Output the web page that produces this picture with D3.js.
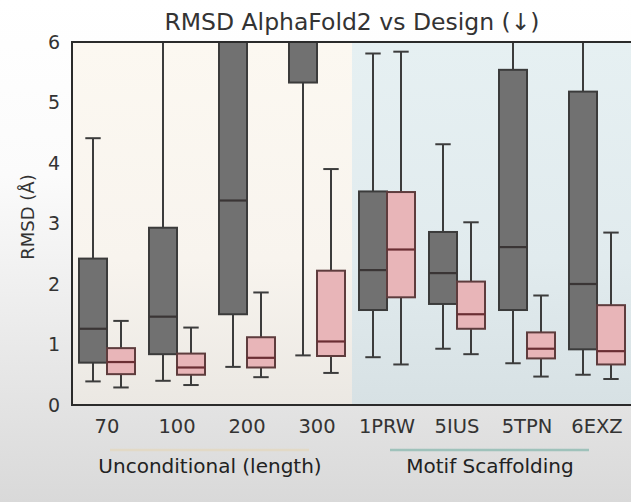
<!DOCTYPE html>
<html>
<head>
<meta charset="utf-8">
<script src="https://cdn.jsdelivr.net/npm/d3@7"></script>
<style>
  html, body { margin: 0; padding: 0; background: #fff; }
  svg { display: block; font-family: "DejaVu Sans", sans-serif; }
</style>
</head>
<body>
<svg id="chart" width="631" height="502"></svg>
<script>
// ---- data ----
const categories = ["70", "100", "200", "300", "1PRW", "5IUS", "5TPN", "6EXZ"];
const groups = ["Unconditional (length)", "Motif Scaffolding"];
const groupOf = [0, 0, 0, 0, 1, 1, 1, 1];
const yTicks = [0, 1, 2, 3, 4, 5, 6];
// first series (gray): [whiskerLow, q1, median, q3, whiskerHigh]
const grayLow    = [0.39, 0.40, 0.63, 0.82, 0.79, 0.93, 0.69, 0.50];
const grayQ1     = [0.70, 0.84, 1.50, 5.33, 1.57, 1.67, 1.57, 0.92];
const grayMedian = [1.26, 1.46, 3.38, 7.50, 2.23, 2.18, 2.61, 2.00];
const grayQ3     = [2.42, 2.93, 6.80, 9.50, 3.53, 2.86, 5.54, 5.18];
const grayHigh   = [4.41, 6.80, 9.50, 12.0, 5.81, 4.31, 7.50, 7.20];
// second series (pink)
const pinkLow    = [0.29, 0.33, 0.46, 0.53, 0.67, 0.84, 0.47, 0.43];
const pinkQ1     = [0.51, 0.50, 0.62, 0.81, 1.78, 1.26, 0.77, 0.67];
const pinkMedian = [0.71, 0.62, 0.78, 1.05, 2.57, 1.50, 0.93, 0.89];
const pinkQ3     = [0.94, 0.85, 1.12, 2.22, 3.52, 2.04, 1.20, 1.65];
const pinkHigh   = [1.39, 1.28, 1.86, 3.90, 5.84, 3.02, 1.81, 2.85];

// ---- layout ----
const svg = d3.select("#chart");
const W = 631, H = 502;
const m = { left: 72, top: 42, right: 632, bottom: 405 };

const defs = svg.append("defs");
function vgrad(id, stops) {
  const g = defs.append("linearGradient").attr("id", id)
    .attr("x1", 0).attr("y1", 0).attr("x2", 0).attr("y2", 1);
  stops.forEach(s => g.append("stop").attr("offset", s[0]).attr("stop-color", s[1]));
}
vgrad("pageBg", [[0, "#ffffff"], [0.35, "#fbfbfb"], [1, "#d9d9d9"]]);
vgrad("leftBg", [[0, "#fcf8f1"], [0.6, "#f8f4ee"], [1, "#ebe8e3"]]);
vgrad("rightBg", [[0, "#e6f0f2"], [0.6, "#e1ebee"], [1, "#d7e1e4"]]);
defs.append("clipPath").attr("id", "plotClip").append("rect")
  .attr("x", m.left).attr("y", m.top).attr("width", m.right - m.left).attr("height", m.bottom - m.top);

svg.append("rect").attr("width", W).attr("height", H).attr("fill", "url(#pageBg)");

const x = d3.scaleBand().domain(categories).range([m.left, m.right]).padding(0);
const y = d3.scaleLinear().domain([0, 6]).range([m.bottom, m.top]);

// group backgrounds
const groupExtent = groups.map((g, gi) => {
  const cats = categories.filter((c, i) => groupOf[i] === gi);
  return [x(cats[0]), x(cats[cats.length - 1]) + x.bandwidth()];
});
svg.append("g").selectAll("rect").data(groupExtent).join("rect")
  .attr("x", d => d[0]).attr("y", m.top)
  .attr("width", d => d[1] - d[0]).attr("height", m.bottom - m.top)
  .attr("fill", (d, i) => i === 0 ? "url(#leftBg)" : "url(#rightBg)");

// boxes
const bw = x.bandwidth() * 0.4;
const series = [
  { low: grayLow, q1: grayQ1, med: grayMedian, q3: grayQ3, high: grayHigh,
    fill: "#717171", stroke: "#3b3b3b", medStroke: "#3a3535", off: -bw },
  { low: pinkLow, q1: pinkQ1, med: pinkMedian, q3: pinkQ3, high: pinkHigh,
    fill: "#e8b5b8", stroke: "#5e3c3d", medStroke: "#6a2e33", off: 0 }
];
const plot = svg.append("g").attr("clip-path", "url(#plotClip)");
series.forEach(s => {
  const g = plot.append("g");
  categories.forEach((c, i) => {
    const x0 = x(c) + x.bandwidth() / 2 + s.off;
    const cx = x0 + bw / 2;
    const capW = bw * 0.55;
    g.append("line").attr("x1", cx).attr("x2", cx).attr("y1", y(s.q3[i])).attr("y2", y(s.high[i]))
      .attr("stroke", "#3c3c3c").attr("stroke-width", 2);
    g.append("line").attr("x1", cx).attr("x2", cx).attr("y1", y(s.q1[i])).attr("y2", y(s.low[i]))
      .attr("stroke", "#3c3c3c").attr("stroke-width", 2);
    g.append("line").attr("x1", cx - capW / 2).attr("x2", cx + capW / 2)
      .attr("y1", y(s.high[i])).attr("y2", y(s.high[i])).attr("stroke", "#3c3c3c").attr("stroke-width", 2);
    g.append("line").attr("x1", cx - capW / 2).attr("x2", cx + capW / 2)
      .attr("y1", y(s.low[i])).attr("y2", y(s.low[i])).attr("stroke", "#3c3c3c").attr("stroke-width", 2);
    g.append("rect").attr("x", x0).attr("width", bw)
      .attr("y", y(s.q3[i])).attr("height", y(s.q1[i]) - y(s.q3[i]))
      .attr("fill", s.fill).attr("stroke", s.stroke).attr("stroke-width", 2);
    g.append("line").attr("x1", x0).attr("x2", x0 + bw)
      .attr("y1", y(s.med[i])).attr("y2", y(s.med[i]))
      .attr("stroke", s.medStroke).attr("stroke-width", 2.2);
  });
});

// frame
svg.append("rect").attr("x", m.left).attr("y", m.top)
  .attr("width", m.right - m.left).attr("height", m.bottom - m.top)
  .attr("fill", "none").attr("stroke", "#2b2b2b").attr("stroke-width", 2);

// y axis
const yAxis = d3.axisLeft(y).tickValues(yTicks).tickFormat(d3.format("d")).tickSize(0).tickPadding(12);
const ya = svg.append("g").attr("transform", `translate(${m.left},0)`).call(yAxis);
ya.select(".domain").remove();
ya.selectAll("text").attr("font-size", 19).attr("fill", "#333").attr("font-family", "DejaVu Sans");

// x axis
const xAxis = d3.axisBottom(x).tickSize(0).tickPadding(14);
const xa = svg.append("g").attr("transform", `translate(0,${m.bottom})`).call(xAxis);
xa.select(".domain").remove();
xa.selectAll("text").attr("font-size", 19.5).attr("fill", "#333").attr("font-family", "DejaVu Sans");

// group underlines and labels
const lineColors = ["#e2d9c6", "#9fc2bb"];
groups.forEach((gname, gi) => {
  const [a, b] = groupExtent[gi];
  const cats = categories.filter((c, i) => groupOf[i] === gi);
  const l = x(cats[0]) + x.bandwidth() / 2 + 3;
  const r = x(cats[cats.length - 1]) + x.bandwidth() / 2 - 8;
  svg.append("line").attr("x1", l).attr("x2", r).attr("y1", 450).attr("y2", 450)
    .attr("stroke", lineColors[gi]).attr("stroke-width", 2.5);
  svg.append("text").attr("x", (a + b) / 2 + (gi === 1 ? -2 : -2)).attr("y", 473)
    .attr("text-anchor", "middle").attr("font-size", 20).attr("fill", "#222")
    .text(gname);
});

// y label
svg.append("text").attr("transform", "translate(34,217) rotate(-90)")
  .attr("text-anchor", "middle").attr("font-size", 18).attr("fill", "#333")
  .text("RMSD (Å)");

// title
svg.append("text").attr("x", 352).attr("y", 30).attr("text-anchor", "middle")
  .attr("font-size", 23.5).attr("fill", "#333").text("RMSD AlphaFold2 vs Design (↓)");
</script>
</body>
</html>
